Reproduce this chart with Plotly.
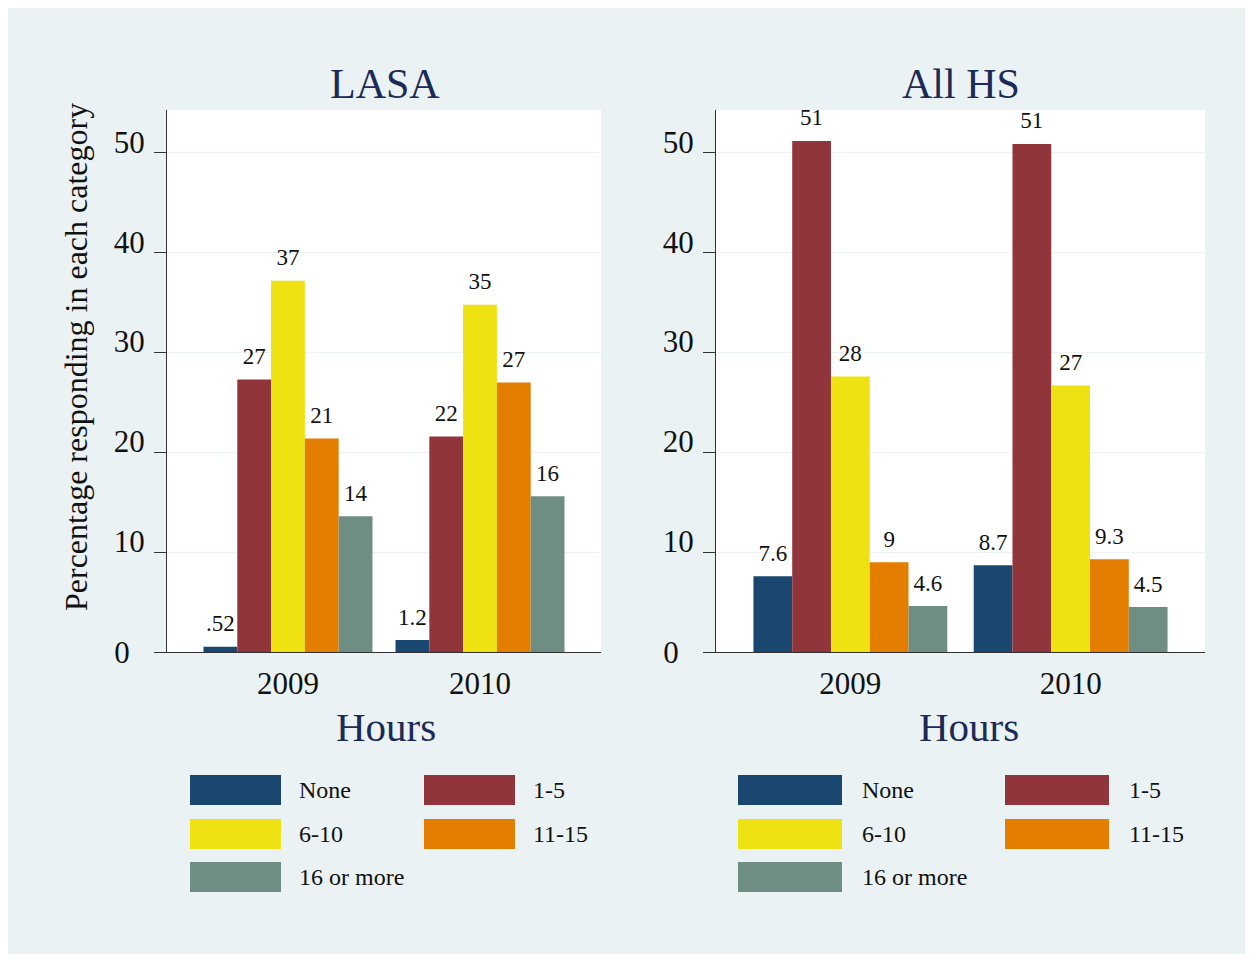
import plotly.graph_objects as go

# ---------------- data ----------------
years = ["2009", "2010"]
categories = ["None", "1-5", "6-10", "11-15", "16 or more"]
colors = ["#1a476f", "#90353b", "#eee213", "#e37e00", "#6e8e84"]

lasa_2009 = [0.52, 27.3, 37.2, 21.4, 13.6]
lasa_2010 = [1.2, 21.6, 34.8, 27.0, 15.6]
allhs_2009 = [7.6, 51.2, 27.6, 9.0, 4.6]
allhs_2010 = [8.7, 50.9, 26.7, 9.3, 4.5]

panel_titles = ["LASA", "All HS"]
x_title = "Hours"
y_title = "Percentage responding in each category"
y_ticks = [0, 10, 20, 30, 40, 50]

# ---------------- geometry helpers (window pixel -> paper) ----------------
OX, OY = 8, 8
W, H = 1253 - 2 * OX, 962 - 2 * OY


def px(x):
    return (x - OX) / W


def py(y):
    return 1 - (y - OY) / H


def fmt(v):
    s = f"{v:.2g}"
    if s.startswith("0."):
        s = s[1:]
    return s


FONT = "Liberation Serif, Times New Roman, serif"
NAVY = "#1c2a56"
BG = "#eaf2f3"
AXC = "#333333"
GAP = 0.12

fig = go.Figure()

panels = [
    ("x", "y", "y3", lasa_2009, lasa_2010),
    ("x2", "y2", "y4", allhs_2009, allhs_2010),
]
for xa, ya, yzero, v09, v10 in panels:
    for i, cat in enumerate(categories):
        vals = [v09[i], v10[i]]
        fig.add_trace(go.Bar(
            x=years, y=vals, name=cat, offsetgroup=str(i),
            marker=dict(color=colors[i], line=dict(width=0)),
            xaxis=xa, yaxis=ya, showlegend=False, hoverinfo="skip",
        ))
    # value labels, grouped like the bars, sitting a little above each bar
    for i, cat in enumerate(categories):
        vals = [v09[i], v10[i]]
        fig.add_trace(go.Scatter(
            x=years, y=vals, name=cat, offsetgroup=str(i),
            mode="markers+text",
            marker=dict(size=14, opacity=0),
            text=[fmt(v) for v in vals],
            textposition="top center",
            textfont=dict(family=FONT, size=23, color="#111111"),
            cliponaxis=False, xaxis=xa, yaxis=ya, showlegend=False, hoverinfo="skip",
        ))
    # empty trace so the overlay axis carrying the "0" label is drawn
    fig.add_trace(go.Scatter(x=[], y=[], xaxis=xa, yaxis=yzero, showlegend=False,
                             hoverinfo="skip"))

ymax = 54.3
tickfont = dict(family=FONT, size=31, color="#111111")
main_y = dict(
    range=[0, ymax], tickvals=y_ticks,
    ticktext=["" if t == 0 else str(t) for t in y_ticks],
    ticks="outside", ticklen=12, tickcolor=AXC,
    showline=True, linecolor=AXC, linewidth=1.3,
    showgrid=True, gridcolor="#edf3f4", gridwidth=1, zeroline=False,
    tickfont=tickfont, ticklabelstandoff=3, ticklabelshift=-11,
    fixedrange=True, automargin=False,
)
zero_y = dict(
    range=[0, ymax], tickvals=[0], ticktext=["0"],
    ticks="outside", ticklen=12, tickcolor="rgba(0,0,0,0)",
    showline=False, showgrid=False, zeroline=False,
    tickfont=tickfont, ticklabelstandoff=18,
    fixedrange=True, automargin=False,
)
main_x = dict(
    type="category", ticks="", showline=True, linecolor=AXC, linewidth=1.3,
    showgrid=False, tickfont=tickfont, ticklabelstandoff=4,
    fixedrange=True, automargin=False,
)

fig.update_layout(
    template="none",
    width=W, height=H,
    margin=dict(l=0, r=0, t=0, b=0, pad=0, autoexpand=False),
    paper_bgcolor=BG, plot_bgcolor="white",
    barmode="group", bargap=GAP, bargroupgap=0,
    scattermode="group", scattergap=GAP,
    showlegend=False,
    xaxis=dict(domain=[px(167), px(601)], range=[-0.63, 1.63], anchor="y", **main_x),
    yaxis=dict(domain=[py(652), py(110)], anchor="x", **main_y),
    xaxis2=dict(domain=[px(716), px(1205)], range=[-0.61, 1.61], anchor="y2", **main_x),
    yaxis2=dict(domain=[py(652), py(110)], anchor="x2", **main_y),
    yaxis3=dict(overlaying="y", anchor="x", side="left", **zero_y),
    yaxis4=dict(overlaying="y2", anchor="x2", side="left", **zero_y),
)

annotations = []
for title, cx in zip(panel_titles, [385, 961]):
    annotations.append(dict(text=title, x=px(cx), y=py(84), xref="paper", yref="paper",
                            showarrow=False, xanchor="center", yanchor="middle",
                            font=dict(family=FONT, size=42, color=NAVY)))
for cx in [386, 969]:
    annotations.append(dict(text=x_title, x=px(cx), y=py(727), xref="paper", yref="paper",
                            showarrow=False, xanchor="center", yanchor="middle",
                            font=dict(family=FONT, size=41, color=NAVY)))
annotations.append(dict(text=y_title, x=px(76), y=py(357), xref="paper", yref="paper",
                        showarrow=False, xanchor="center", yanchor="middle", textangle=-90,
                        font=dict(family=FONT, size=32, color="#111111")))

shapes = []
legend_specs = [
    ([190, 424], 91, [297, 531]),
    ([738, 1005], 104, [860, 1127]),
]
row_y = [790, 834, 877]
sw_h = 30
for col_x, sw_w, text_x in legend_specs:
    for i, cat in enumerate(categories):
        r, c = divmod(i, 2)
        x0 = col_x[c]
        yc = row_y[r]
        shapes.append(dict(type="rect", xref="paper", yref="paper",
                           x0=px(x0), x1=px(x0 + sw_w), y0=py(yc + sw_h / 2), y1=py(yc - sw_h / 2),
                           fillcolor=colors[i], line=dict(width=0)))
        annotations.append(dict(text=cat, x=px(text_x[c]), y=py(yc), xref="paper", yref="paper",
                                showarrow=False, xanchor="left", yanchor="middle",
                                font=dict(family=FONT, size=24, color="#111111")))

fig.update_layout(annotations=annotations, shapes=shapes)

fig.write_html("out.html", config={"displayModeBar": False})
